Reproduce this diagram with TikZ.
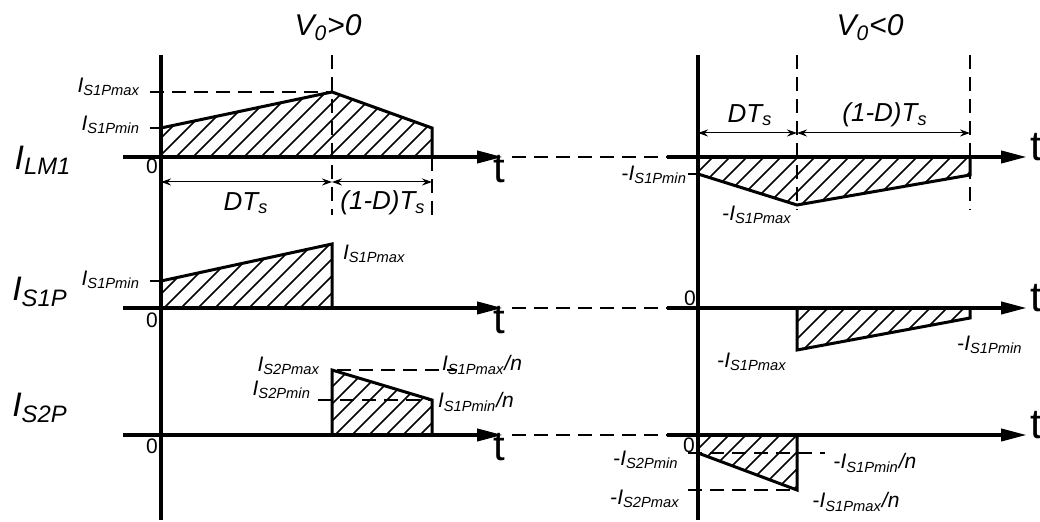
\documentclass[tikz,border=0pt]{standalone}
\usepackage{fontspec}
\setmainfont{Liberation Sans}
\usetikzlibrary{arrows.meta}

\newcommand{\Isub}[1]{\textit{I\textsubscript{#1}}}

\tikzset{
  axis/.style={line width=2pt},
  taxis/.style={line width=2pt, -{Triangle[length=13pt,width=6pt]}},
  wave/.style={line width=1.5pt, line join=miter},
  guide/.style={line width=1.2pt, dash pattern=on 7pt off 4pt},
  tick/.style={line width=1.2pt},
  hatch/.style={line width=0.8pt},
  dim/.style={line width=0.5pt, {Stealth[length=5pt,width=3.5pt]}-{Stealth[length=5pt,width=3.5pt]}},
  lab/.style={font=\fontsize{10.5}{12}\selectfont},
  rowlab/.style={font=\fontsize{17}{20}\selectfont\itshape},
  tlab/.style={font=\fontsize{21}{24}\selectfont, inner sep=0pt},
  vlab/.style={font=\fontsize{15}{18}\selectfont\itshape},
  period/.style={font=\fontsize{13}{15}\selectfont\itshape},
}

\begin{document}
\begin{tikzpicture}[x=0.5pt, y=-0.5pt]

\useasboundingbox (0,0) rectangle (1040,522);

% Axis levels of the three rows
\def\ya{157}
\def\yb{308}
\def\yc{435}

% Hatched areas
\begin{scope}
  \clip (161,157) -- (161,128) -- (332,92) -- (432,128) -- (432,157) -- cycle;
  \foreach \k in {0,...,21} \draw[hatch] (91+17*\k,157) -- ++(70,-70);
\end{scope}
\begin{scope}
  \clip (161,308) -- (161,281) -- (332,244) -- (332,308) -- cycle;
  \foreach \k in {0,...,15} \draw[hatch] (96+17*\k,308) -- ++(70,-70);
\end{scope}
\begin{scope}
  \clip (332,435) -- (332,370) -- (432,400) -- (432,435) -- cycle;
  \foreach \k in {0,...,11} \draw[hatch] (267+17*\k,435) -- ++(70,-70);
\end{scope}
\begin{scope}
  \clip (698,157) -- (698,174) -- (797,205) -- (970,175) -- (970,157) -- cycle;
  \foreach \k in {0,...,20} \draw[hatch] (648+17*\k,205) -- ++(50,-50);
\end{scope}
\begin{scope}
  \clip (797,308) -- (797,350) -- (970,318) -- (970,308) -- cycle;
  \foreach \k in {0,...,14} \draw[hatch] (752+17*\k,350) -- ++(45,-45);
\end{scope}
\begin{scope}
  \clip (698,435) -- (698,453) -- (797,490) -- (797,435) -- cycle;
  \foreach \k in {0,...,10} \draw[hatch] (640+17*\k,490) -- ++(58,-58);
\end{scope}

% Current waveforms
\draw[wave] (161,128) -- (332,92) -- (432,128) -- (432,157);
\draw[wave] (161,281) -- (332,244) -- (332,308);
\draw[wave] (332,435) -- (332,370) -- (432,400) -- (432,435);
\draw[wave] (698,174) -- (797,205) -- (970,175) -- (970,157);
\draw[wave] (797,308) -- (797,350) -- (970,318) -- (970,308);
\draw[wave] (698,453) -- (797,490) -- (797,435);

% Vertical axes
\draw[axis] (161,55) -- (161,520);
\draw[axis] (698,55) -- (698,520);

% Time axes, joined by dashes
\foreach \y in {\ya,\yb,\yc} {
  \draw[taxis] (123,\y) -- (503,\y);
  \draw[guide] (512,\y) -- (667,\y);
  \draw[taxis] (667,\y) -- (1027,\y);
}
\node[tlab, anchor=north] (t1) at (499,\ya-2) {t};
\node[tlab, anchor=north] (t2) at (499,\yb-2) {t};
\node[tlab, anchor=north] (t3) at (499,\yc-2) {t};
\node[tlab, anchor=west] (t4) at (1030,\ya-10) {t};
\node[tlab, anchor=west] (t5) at (1030,\yb-10) {t};
\node[tlab, anchor=west] (t6) at (1030,\yc-10) {t};

% Guide lines and ticks
\draw[guide] (150,92) -- (332,92);
\draw[tick] (150,128) -- (161,128);
\draw[tick] (150,281) -- (161,281);
\draw[tick] (688,174) -- (698,174);
\draw[guide] (332,55) -- (332,215);
\draw[guide] (432,157) -- (432,215);
\draw[guide] (797,55) -- (797,210);
\draw[guide] (970,55) -- (970,210);
\draw[guide] (337,370) -- (457,370);
\draw[guide] (318,400) -- (432,400);
\draw[guide] (688,453) -- (825,453);
\draw[guide] (688,490) -- (797,490);

% Periods
\draw[dim] (161,182) -- (332,182);
\draw[dim] (332,182) -- (432,182);
\draw[dim] (698,133) -- (797,133);
\draw[dim] (797,133) -- (970,133);
\node[period] (dtl) at (246,203) {DT\textsubscript{s}};
\node[period] (ddl) at (383,203) {(1-D)T\textsubscript{s}};
\node[period] (dtr) at (750,115) {DT\textsubscript{s}};
\node[period] (ddr) at (885,115) {(1-D)T\textsubscript{s}};

% Titles and row names
\node[vlab] (vpos) at (328,28) {V\textsubscript{0}>0};
\node[vlab] (vneg) at (870,28) {V\textsubscript{0}<0};
\node[rowlab] (ilm) at (43,160) {I\textsubscript{LM1}};
\node[rowlab] (is1) at (40,292) {I\textsubscript{S1P}};
\node[rowlab] (is2) at (40,408) {I\textsubscript{S2P}};

% Zeros
\node[lab] (z1) at (152,166) {0};
\node[lab] (z2) at (152,320) {0};
\node[lab] (z3) at (152,446) {0};
\node[lab] (z4) at (690,298) {0};
\node[lab] (z5) at (689,445) {0};

% Levels, V0>0
\node[lab, anchor=east] (amax) at (147,87) {\Isub{S1Pmax}};
\node[lab, anchor=east] (amin) at (147,125) {\Isub{S1Pmin}};
\node[lab, anchor=east] (bmin) at (147,280) {\Isub{S1Pmin}};
\node[lab, anchor=west] (bmax) at (336,254) {\Isub{S1Pmax}};
\node[lab, anchor=east] (cmax) at (327,366) {\Isub{S2Pmax}};
\node[lab, anchor=east] (cmin) at (318,390) {\Isub{S2Pmin}};
\node[lab, anchor=west] (cmaxn) at (435,365) {\textit{I\textsubscript{S1Pmax}/n}};
\node[lab, anchor=west] (cminn) at (431,402) {\textit{I\textsubscript{S1Pmin}/n}};

% Levels, V0<0
\node[lab, anchor=east] (dmin) at (694,175) {-\Isub{S1Pmin}};
\node[lab] (dmax) at (757,215) {-\Isub{S1Pmax}};
\node[lab] (emax) at (752,362) {-\Isub{S1Pmax}};
\node[lab] (emin) at (990,345) {-\Isub{S1Pmin}};
\node[lab] (fmin) at (646,460) {-\Isub{S2Pmin}};
\node[lab] (fmax) at (645,499) {-\Isub{S2Pmax}};
\node[lab] (fminn) at (875,463) {-\textit{I\textsubscript{S1Pmin}/n}};
\node[lab] (fmaxn) at (856,502) {-\textit{I\textsubscript{S1Pmax}/n}};

\end{tikzpicture}
\end{document}
